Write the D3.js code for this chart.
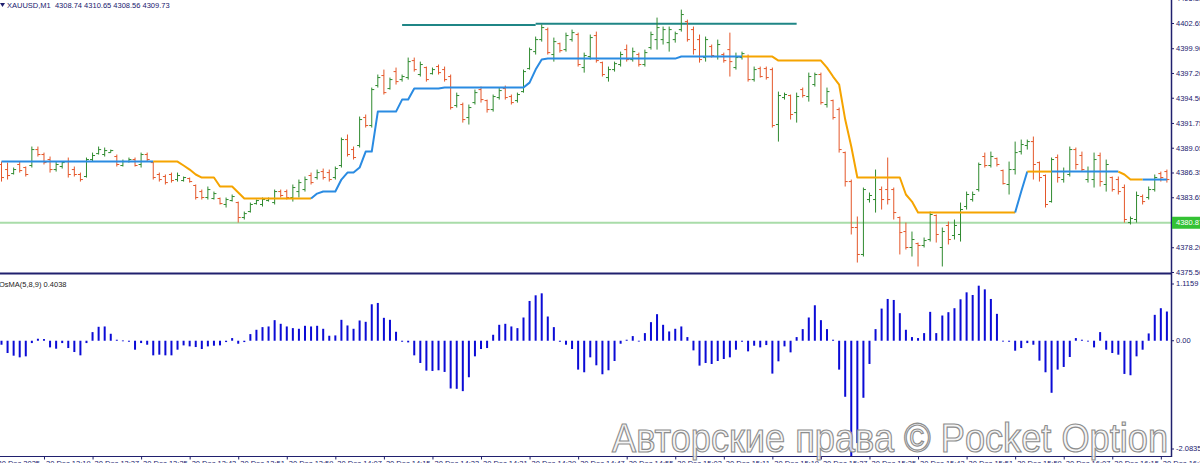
<!DOCTYPE html>
<html><head><meta charset="utf-8">
<script src="https://cdn.jsdelivr.net/npm/d3@7"></script>
<style>html,body{margin:0;padding:0;background:#fff;overflow:hidden}svg{display:block}</style>
</head><body><svg id="c" width="1200" height="463"></svg>
<script>
// ---------- DATA ----------
const high = [4387.54,4387.43,4386.89,4387.54,4387.00,4389.18,4389.18,4388.52,4388.09,4387.54,
4387.54,4387.98,4387.00,4386.34,4387.98,4388.52,4389.18,4389.07,4388.85,4388.31,
4387.76,4387.98,4387.98,4388.52,4388.52,4387.54,4386.34,4386.13,4386.34,4386.34,
4385.91,4385.80,4385.04,4384.49,4384.82,4384.27,4383.62,4383.62,4383.95,4383.18,
4382.09,4383.07,4383.40,4383.62,4383.62,4384.49,4384.49,4384.49,4385.04,4385.58,
4385.91,4386.34,4386.67,4386.78,4386.67,4387.00,4390.16,4390.49,4389.18,4392.45,
4392.67,4395.61,4397.03,4397.57,4396.70,4397.79,4397.03,4398.88,4398.88,4398.44,
4397.90,4397.79,4398.12,4397.90,4397.03,4395.06,4393.97,4393.76,4395.39,4395.72,
4394.30,4394.85,4395.61,4395.83,4394.85,4395.06,4397.57,4399.97,4401.17,4402.48,
4402.15,4401.06,4400.51,4401.60,4401.93,4401.60,4399.42,4401.39,4401.71,4398.44,
4397.90,4398.44,4399.53,4400.30,4399.97,4399.42,4399.75,4401.71,4403.24,4402.26,
4402.26,4401.71,4404.11,4403.02,4402.26,4401.39,4401.17,4400.30,4400.84,4399.42,
4401.60,4399.42,4399.53,4399.21,4397.90,4397.90,4397.90,4397.79,4395.17,4395.06,
4394.85,4395.06,4395.61,4397.24,4397.24,4397.24,4395.61,4394.30,4393.43,4388.63,
4385.58,4381.55,4384.71,4384.16,4386.67,4384.82,4387.98,4384.71,4381.55,4380.89,
4379.91,4378.71,4379.26,4382.09,4381.77,4380.35,4381.00,4381.22,4383.07,4384.27,
4384.27,4387.43,4388.52,4388.63,4387.98,4386.67,4387.54,4389.72,4389.94,4389.94,
4390.27,4387.54,4386.13,4387.98,4388.31,4386.89,4389.18,4389.07,4388.63,4387.00,
4388.52,4388.52,4387.76,4385.91,4385.91,4385.04,4381.55,4384.27,4383.95,4384.82,
4386.13,4386.45,4386.67];
const low = [4385.36,4385.58,4386.13,4386.34,4385.91,4386.89,4388.09,4387.22,4386.34,4386.45,
4386.78,4385.80,4385.91,4385.36,4385.80,4387.54,4388.31,4388.09,4388.52,4387.00,
4387.00,4387.43,4387.00,4386.89,4387.54,4385.58,4385.36,4385.04,4385.25,4385.36,
4385.36,4385.25,4383.40,4383.40,4383.40,4383.40,4382.86,4382.53,4383.18,4380.89,
4381.22,4381.98,4382.86,4382.64,4383.18,4382.86,4383.62,4383.40,4383.18,4383.62,
4384.27,4385.04,4385.58,4385.58,4385.36,4385.58,4386.89,4388.09,4387.76,4389.07,
4391.25,4391.25,4395.61,4394.85,4395.39,4395.94,4396.26,4396.48,4397.35,4396.81,
4396.26,4397.03,4397.03,4396.26,4393.21,4393.43,4391.79,4391.58,4393.76,4393.97,
4392.88,4392.99,4394.30,4394.30,4393.76,4393.97,4395.06,4397.57,4399.21,4400.62,
4399.21,4398.44,4399.42,4399.53,4400.62,4397.90,4397.24,4398.66,4398.33,4396.81,
4396.26,4397.35,4397.90,4398.44,4398.44,4397.90,4397.90,4399.75,4399.75,4400.30,
4399.53,4400.51,4401.71,4400.62,4399.21,4398.33,4398.44,4398.88,4398.66,4398.33,
4396.81,4397.57,4398.66,4396.26,4396.26,4396.70,4396.48,4391.25,4389.72,4394.30,
4392.12,4391.79,4394.52,4394.08,4395.72,4393.76,4393.43,4392.12,4388.52,4384.82,
4379.59,4376.53,4377.19,4383.07,4381.98,4382.31,4382.86,4381.22,4377.41,4377.95,
4377.19,4376.10,4378.17,4378.82,4378.71,4376.10,4378.50,4379.04,4378.82,4382.31,
4383.18,4384.27,4386.89,4386.89,4387.00,4385.04,4383.95,4386.13,4388.31,4388.85,
4385.58,4385.36,4382.53,4383.07,4385.25,4385.25,4385.91,4386.67,4386.45,4385.25,
4384.71,4384.82,4384.27,4384.27,4383.95,4380.89,4380.68,4380.89,4382.86,4383.40,
4384.27,4385.36,4385.25];
const open = [4387.22,4386.67,4386.23,4387.22,4386.89,4387.11,4388.85,4388.31,4387.76,4386.67,
4387.00,4387.54,4386.67,4386.13,4385.91,4387.76,4388.41,4388.31,4388.52,4388.09,
4387.11,4387.54,4387.76,4387.22,4388.31,4387.43,4386.13,4385.91,4386.13,4385.58,
4385.47,4385.69,4384.93,4384.27,4383.62,4383.51,4383.51,4382.86,4383.29,4383.07,
4381.44,4382.09,4382.96,4382.86,4383.29,4383.07,4384.27,4384.27,4383.62,4384.27,
4384.49,4386.02,4385.80,4386.45,4386.34,4385.80,4387.11,4389.94,4388.85,4389.29,
4392.34,4391.47,4395.83,4396.92,4395.50,4397.35,4396.48,4396.70,4398.55,4397.03,
4397.79,4397.13,4397.90,4397.57,4396.81,4393.65,4393.76,4392.34,4393.97,4395.39,
4394.19,4393.21,4394.52,4395.50,4394.63,4394.19,4395.17,4397.68,4399.53,4400.84,
4401.93,4399.21,4400.40,4399.75,4400.84,4401.39,4397.79,4398.99,4401.28,4398.33,
4396.70,4397.57,4398.12,4399.75,4398.66,4399.21,4398.12,4399.97,4400.84,4400.84,
4400.51,4400.84,4401.93,4402.80,4401.93,4400.84,4398.88,4400.08,4398.99,4399.21,
4399.75,4397.79,4398.88,4398.99,4396.48,4397.68,4397.68,4397.57,4391.58,4394.52,
4394.74,4392.88,4395.39,4394.63,4395.94,4397.03,4393.76,4394.19,4393.21,4388.52,
4385.36,4380.35,4377.41,4383.40,4383.40,4384.49,4384.49,4384.49,4381.44,4379.91,
4378.17,4378.60,4378.39,4379.04,4381.66,4378.17,4380.57,4379.48,4379.59,4382.64,
4383.40,4384.49,4388.09,4387.11,4387.87,4386.56,4385.04,4386.67,4388.63,4389.29,
4389.72,4387.43,4386.02,4383.18,4387.98,4385.58,4386.13,4388.85,4388.20,4385.58,
4385.58,4388.20,4385.04,4385.80,4385.58,4384.71,4380.89,4381.22,4383.73,4383.62,
4384.49,4386.23,4386.45];
const close = [4385.80,4386.02,4386.67,4386.56,4386.13,4388.85,4388.31,4387.43,4386.67,4387.22,
4387.43,4386.13,4386.13,4385.58,4387.76,4388.20,4388.85,4388.74,4388.74,4387.22,
4387.54,4387.76,4387.11,4388.31,4387.76,4385.80,4385.58,4385.25,4385.47,4386.02,
4385.80,4385.36,4383.62,4383.62,4384.49,4384.05,4382.96,4383.40,4383.73,4381.44,
4381.87,4382.86,4383.29,4383.40,4383.51,4384.27,4383.84,4383.62,4384.71,4385.25,
4385.58,4385.25,4386.34,4385.80,4385.58,4386.78,4389.94,4388.31,4387.98,4392.12,
4391.47,4395.39,4396.70,4395.06,4396.48,4396.26,4396.81,4398.44,4397.57,4398.12,
4396.48,4397.57,4397.24,4396.48,4393.43,4394.74,4392.12,4393.43,4395.06,4394.30,
4393.21,4394.63,4395.28,4394.52,4393.97,4394.85,4397.35,4399.75,4400.84,4402.15,
4399.42,4400.62,4399.64,4401.28,4401.60,4398.12,4399.10,4401.06,4398.55,4397.03,
4397.57,4398.22,4399.21,4398.66,4399.53,4398.12,4399.42,4401.39,4402.15,4401.93,
4401.93,4401.49,4403.57,4400.84,4399.75,4398.66,4400.84,4399.10,4400.30,4398.55,
4398.44,4398.88,4399.31,4396.48,4397.57,4396.81,4396.70,4391.47,4394.74,4394.85,
4392.67,4394.63,4394.74,4396.81,4397.03,4393.97,4395.17,4392.34,4388.85,4385.36,
4380.35,4377.41,4384.49,4383.84,4385.80,4383.40,4383.40,4381.98,4379.80,4378.17,
4379.04,4378.39,4378.93,4381.77,4379.59,4379.91,4379.04,4380.57,4382.31,4383.95,
4383.95,4387.22,4387.11,4388.09,4387.22,4385.14,4386.67,4388.52,4389.40,4389.72,
4387.22,4385.80,4382.86,4387.76,4385.80,4386.45,4388.85,4387.22,4386.67,4386.45,
4387.76,4385.36,4387.22,4384.49,4384.27,4381.22,4381.33,4383.84,4383.18,4384.49,
4385.80,4385.80,4385.58];
const stopLine = [4387.54,4387.54,4387.54,4387.54,4387.54,4387.54,4387.54,4387.54,4387.54,4387.54,
4387.54,4387.54,4387.54,4387.54,4387.54,4387.54,4387.54,4387.54,4387.54,4387.54,
4387.54,4387.54,4387.54,4387.54,4387.54,4387.54,4387.54,4387.54,4387.54,4387.54,
4387.11,4386.67,4386.13,4385.80,4385.80,4385.80,4384.82,4384.82,4384.82,4384.16,
4383.51,4383.51,4383.51,4383.51,4383.51,4383.51,4383.51,4383.51,4383.51,4383.51,
4383.51,4383.51,4384.05,4384.27,4384.27,4384.27,4385.58,4386.34,4386.34,4386.89,
4388.63,4388.63,4392.99,4392.99,4392.99,4392.99,4394.30,4394.30,4395.50,4395.50,
4395.50,4395.50,4395.50,4395.61,4395.61,4395.61,4395.61,4395.61,4395.61,4395.61,
4395.61,4395.61,4395.61,4395.61,4395.61,4395.61,4395.61,4396.15,4397.57,4398.66,
4398.77,4398.77,4398.77,4398.77,4398.77,4398.77,4398.77,4398.77,4398.77,4398.77,
4398.77,4398.77,4398.77,4398.77,4398.77,4398.77,4398.77,4398.77,4398.77,4398.77,
4398.77,4398.77,4398.99,4398.99,4398.99,4398.99,4398.99,4398.99,4398.99,4398.99,
4398.99,4398.99,4398.99,4398.99,4398.99,4398.99,4398.99,4398.99,4398.55,4398.55,
4398.55,4398.55,4398.55,4398.55,4398.55,4398.55,4397.79,4396.81,4395.94,4392.12,
4389.18,4385.80,4385.80,4385.80,4385.80,4385.80,4385.80,4385.80,4385.80,4383.95,
4383.18,4381.98,4381.98,4381.98,4381.98,4381.98,4381.98,4381.98,4381.98,4381.98,
4381.98,4381.98,4381.98,4381.98,4381.98,4381.98,4381.98,4381.98,4384.27,4386.45,
4386.45,4386.45,4386.45,4386.45,4386.45,4386.45,4386.45,4386.45,4386.45,4386.45,
4386.45,4386.45,4386.45,4386.45,4386.45,4386.13,4385.58,4385.58,4385.58,4385.58,
4385.58,4385.58,4385.58];
// trend runs of the stop line: [fromBar, toBar, direction]
const trendFrom = [0,25,51,122,167,169,173,184,188];
const trendTo   = [25,51,122,167,169,173,184,188,192];
const trendDir  = ["up","down","up","down","up","down","up","down","up"];
// resistance (teal) segments
const resFrom = [66,88];
const resTo = [88,131];
const resPrice = [4402.44,4402.58];
const markerPrice = 4380.87;
const osma = [-0.072,-0.222,-0.27,-0.30,-0.282,-0.042,0.036,0.03,-0.12,-0.144,
-0.042,-0.132,-0.204,-0.264,-0.042,0.156,0.252,0.258,0.126,0.018,
0.005,-0.018,-0.162,-0.042,-0.072,-0.264,-0.252,-0.264,-0.264,-0.162,
-0.084,-0.102,-0.114,-0.15,-0.102,-0.09,-0.084,-0.024,0.048,-0.054,
-0.024,0.12,0.198,0.246,0.258,0.372,0.306,0.258,0.228,0.216,
0.27,0.258,0.27,0.216,0.09,0.096,0.378,0.276,0.216,0.366,
0.342,0.659,0.683,0.414,0.378,0.162,-0.018,-0.03,-0.264,-0.402,
-0.54,-0.546,-0.534,-0.564,-0.863,-0.869,-0.911,-0.66,-0.282,-0.15,
-0.132,0.108,0.288,0.306,0.258,0.228,0.42,0.719,0.821,0.857,
0.438,0.246,-0.018,-0.072,-0.15,-0.522,-0.57,-0.30,-0.444,-0.606,
-0.534,-0.366,-0.054,0.018,0.084,-0.012,0.138,0.336,0.48,0.288,
0.168,0.216,0.258,0.066,-0.174,-0.45,-0.402,-0.42,-0.366,-0.33,
-0.30,-0.162,-0.018,-0.192,-0.09,-0.12,-0.078,-0.594,-0.372,-0.102,
-0.21,0.066,0.21,0.42,0.641,0.372,0.21,0.018,-0.522,-1.013,
-2.0835,-1.85,-1.031,-0.42,0.21,0.581,0.755,0.737,0.498,0.198,
0.066,0.048,0.138,0.522,0.138,0.456,0.516,0.588,0.749,0.875,
0.827,0.995,0.929,0.755,0.486,-0.012,-0.018,-0.18,-0.132,-0.042,
-0.072,-0.36,-0.57,-0.941,-0.522,-0.474,-0.294,0.048,0.018,-0.012,
-0.12,0.156,-0.162,-0.222,-0.252,-0.60,-0.624,-0.282,-0.162,0.132,
0.468,0.588,0.528];
const priceTicks = [4405.35,4402.65,4399.90,4397.20,4394.50,4391.75,4389.05,4386.35,4383.65,4378.20,4375.50];
const osmaTicks = [1.1159,0,-2.0835];
const osmaTickLabels = ["1.1159","0.00","-2.0835"];
const timeIdx = [0,7,15,23,31,39,47,55,63,71,79,87,95,103,111,119,127,135,143,151,159,167,175,183,191];
const timeLabels = ["30 Dec 2025","30 Dec 13:19","30 Dec 13:27","30 Dec 13:35","30 Dec 13:43","30 Dec 13:51","30 Dec 13:59","30 Dec 14:07","30 Dec 14:15","30 Dec 14:23","30 Dec 14:31","30 Dec 14:39","30 Dec 14:47","30 Dec 14:55","30 Dec 15:03","30 Dec 15:11","30 Dec 15:19","30 Dec 15:27","30 Dec 15:35","30 Dec 15:43","30 Dec 15:51","30 Dec 15:59","30 Dec 16:07","30 Dec 16:15","30 Dec 16:23"];
const headerText = "XAUUSD,M1  4308.74 4310.65 4308.56 4309.73";
const osmaTitle = "OsMA(5,8,9) 0.4038";
const watermark = "Авторские права © Pocket Option";

// ---------- DRAW ----------
const navy = "#20206e", upCol = "#2f8a2f", dnCol = "#e4572a";
const font = "'Liberation Sans', Arial, sans-serif";
const axisX = 1171;
const svg = d3.select("#c");
svg.append("rect").attr("width",1200).attr("height",463).attr("fill","#fff");

const x = d3.scaleLinear().domain([0, high.length-1]).range([1.5, 1166.9]);
const y = d3.scaleLinear().domain([4375.50, 4402.65]).range([272, 23]);
const yo = d3.scaleLinear().domain([-2.0835, 1.1159]).range([456, 279]);

svg.append("defs").append("clipPath").attr("id","pc").append("rect")
  .attr("x",0).attr("y",0).attr("width",axisX).attr("height",273);
const gp = svg.append("g").attr("clip-path","url(#pc)");

// marker line
gp.append("line").attr("x1",0).attr("x2",axisX).attr("y1",y(markerPrice)).attr("y2",y(markerPrice))
  .attr("stroke","#a9dca9").attr("stroke-width",2);

// resistance lines
resFrom.forEach((f,k)=>{
  gp.append("line").attr("x1",x(f)).attr("x2",x(resTo[k]))
    .attr("y1",y(resPrice[k])).attr("y2",y(resPrice[k]))
    .attr("stroke","#1f8686").attr("stroke-width",2);
});

// OHLC bars
const idx = d3.range(high.length);
gp.selectAll("path.bar").data(idx).join("path").attr("class","bar")
  .attr("d", i => {
    const cx = x(i);
    return `M${cx},${y(high[i])}V${y(low[i])}M${cx-2.5},${y(open[i])}H${cx}M${cx},${y(close[i])}H${cx+2.5}`;
  })
  .attr("fill","none").attr("stroke-width",1)
  .attr("stroke", i => close[i] >= open[i] ? upCol : dnCol);

// stop line
const ln = d3.line().x(i => x(i)).y(i => y(stopLine[i]));
trendFrom.forEach((a,k)=>{
  const pts = d3.range(a, trendTo[k]+1);
  gp.append("path").attr("d", ln(pts)).attr("fill","none")
    .attr("stroke", trendDir[k]==="up" ? "#2a8be2" : "#f5a400")
    .attr("stroke-width",2).attr("stroke-linejoin","round");
});

// OsMA histogram
svg.append("g").selectAll("rect").data(idx).join("rect")
  .attr("x", i => x(i)-1).attr("width",2)
  .attr("y", i => Math.min(yo(osma[i]), yo(0)))
  .attr("height", i => Math.max(0.8, Math.abs(yo(osma[i]) - yo(0))))
  .attr("fill","#0b0bd6");

// frame lines
svg.append("line").attr("x1",0).attr("x2",axisX).attr("y1",273.5).attr("y2",273.5).attr("stroke",navy).attr("stroke-width",2);
svg.append("line").attr("x1",0).attr("x2",axisX).attr("y1",456.5).attr("y2",456.5).attr("stroke",navy).attr("stroke-width",1);
svg.append("line").attr("x1",axisX+0.5).attr("x2",axisX+0.5).attr("y1",0).attr("y2",457).attr("stroke",navy).attr("stroke-width",1.5);

function styleAxis(g){
  g.select(".domain").remove();
  g.selectAll(".tick line").attr("stroke",navy);
  g.selectAll(".tick text").attr("fill",navy).style("font-family",font).style("font-size","7.5px");
}
// price axis
const gR = svg.append("g").attr("transform",`translate(${axisX},0)`)
  .call(d3.axisRight(y).tickValues(priceTicks).tickFormat(d3.format(".2f")).tickSize(3).tickPadding(2));
styleAxis(gR);
// marker label
const my = y(markerPrice);
svg.append("rect").attr("x",axisX+1).attr("y",my-6).attr("width",30).attr("height",12).attr("fill","#34c234");
svg.append("text").attr("x",axisX+5).attr("y",my+2.7).text(d3.format(".2f")(markerPrice))
  .attr("fill","#fff").style("font-family",font).style("font-size","7.5px");

// osma axis
const gO = svg.append("g").attr("transform",`translate(${axisX},0)`)
  .call(d3.axisRight(yo).tickValues(osmaTicks).tickFormat((d,i)=>osmaTickLabels[i]).tickSize(3).tickPadding(2));
styleAxis(gO);
gO.selectAll(".tick").attr("transform",(d,i)=>`translate(0,${yo(d) + (i===0?5:(i===2?-7:0))})`);

// time axis
const gB = svg.append("g").attr("transform","translate(0,456.5)")
  .call(d3.axisBottom(x).tickValues(timeIdx).tickFormat((d,i)=>timeLabels[i]).tickSize(3).tickPadding(1));
styleAxis(gB);
gB.selectAll(".tick text").attr("text-anchor","start").attr("x",(d,i)=> i===0 ? -4.5 : 1.5);
gB.selectAll(".tick line").filter((d,i)=>i===0).remove();

// header texts
svg.append("path").attr("d","M0,3L5,3L2.5,7Z").attr("fill",navy);
svg.append("text").attr("x",7).attr("y",8).text(headerText).attr("fill",navy)
  .style("font-family",font).style("font-size","7.5px").style("white-space","pre").attr("xml:space","preserve");
svg.append("text").attr("x",-1).attr("y",287).text(osmaTitle).attr("fill","#222")
  .style("font-family",font).style("font-size","7.5px");

// watermark
svg.append("text").attr("x",612).attr("y",452).text(watermark)
  .attr("textLength",556).attr("lengthAdjust","spacingAndGlyphs")
  .style("font-family",font).style("font-size","40px")
  .attr("fill","#f4f4f4").attr("fill-opacity",0.85)
  .attr("stroke","#8d8d8d").attr("stroke-width",1.2);
</script></body></html>
